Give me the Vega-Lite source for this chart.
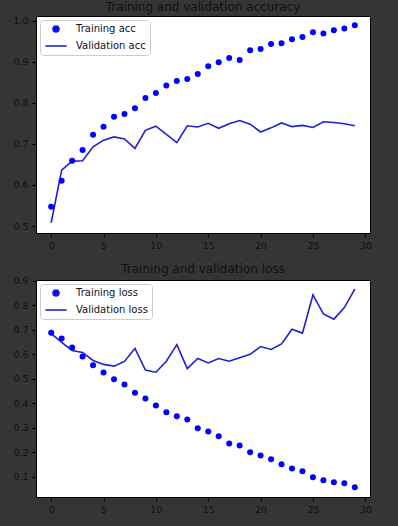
{
  "$schema": "https://vega.github.io/schema/vega-lite/v6.json",
  "background": "#353535",
  "padding": {"left": 12, "top": 0, "right": 26, "bottom": 26},
  "config": {
    "font": "DejaVu Sans",
    "view": {"fill": "white", "stroke": "black", "strokeWidth": 1},
    "axis": {
      "grid": false,
      "domain": false,
      "tickColor": "black",
      "tickSize": 4,
      "labelColor": "#111111",
      "labelFontSize": 9.5,
      "labelFont": "DejaVu Sans",
      "labelOverlap": false,
      "labelFlush": false,
      "title": null
    },
    "axisX": {"labelPadding": 3},
    "axisY": {"labelPadding": 4},
    "title": {"font": "DejaVu Sans", "fontSize": 12, "fontWeight": "normal", "color": "#111111", "baseline": "alphabetic", "frame": "group"},
    "legend": {
      "orient": "top-left",
      "offset": 4,
      "title": null,
      "fillColor": "white",
      "strokeColor": "#cccccc",
      "cornerRadius": 3,
      "padding": 4,
      "rowPadding": 5,
      "symbolOffset": 7,
      "labelOffset": 15,
      "labelFontSize": 10,
      "labelColor": "#111111",
      "symbolSize": 36,
      "symbolStrokeWidth": 1.6
    }
  },
  "datasets": {
    "acc": [
      {"epoch": 0, "series": "Training acc", "value": 0.547},
      {"epoch": 1, "series": "Training acc", "value": 0.610},
      {"epoch": 2, "series": "Training acc", "value": 0.659},
      {"epoch": 3, "series": "Training acc", "value": 0.685},
      {"epoch": 4, "series": "Training acc", "value": 0.722},
      {"epoch": 5, "series": "Training acc", "value": 0.742},
      {"epoch": 6, "series": "Training acc", "value": 0.766},
      {"epoch": 7, "series": "Training acc", "value": 0.773},
      {"epoch": 8, "series": "Training acc", "value": 0.787},
      {"epoch": 9, "series": "Training acc", "value": 0.812},
      {"epoch": 10, "series": "Training acc", "value": 0.824},
      {"epoch": 11, "series": "Training acc", "value": 0.842},
      {"epoch": 12, "series": "Training acc", "value": 0.853},
      {"epoch": 13, "series": "Training acc", "value": 0.858},
      {"epoch": 14, "series": "Training acc", "value": 0.870},
      {"epoch": 15, "series": "Training acc", "value": 0.889},
      {"epoch": 16, "series": "Training acc", "value": 0.899},
      {"epoch": 17, "series": "Training acc", "value": 0.909},
      {"epoch": 18, "series": "Training acc", "value": 0.904},
      {"epoch": 19, "series": "Training acc", "value": 0.928},
      {"epoch": 20, "series": "Training acc", "value": 0.931},
      {"epoch": 21, "series": "Training acc", "value": 0.943},
      {"epoch": 22, "series": "Training acc", "value": 0.945},
      {"epoch": 23, "series": "Training acc", "value": 0.955},
      {"epoch": 24, "series": "Training acc", "value": 0.960},
      {"epoch": 25, "series": "Training acc", "value": 0.972},
      {"epoch": 26, "series": "Training acc", "value": 0.969},
      {"epoch": 27, "series": "Training acc", "value": 0.977},
      {"epoch": 28, "series": "Training acc", "value": 0.981},
      {"epoch": 29, "series": "Training acc", "value": 0.989},
      {"epoch": 0, "series": "Validation acc", "value": 0.508},
      {"epoch": 1, "series": "Validation acc", "value": 0.636},
      {"epoch": 2, "series": "Validation acc", "value": 0.658},
      {"epoch": 3, "series": "Validation acc", "value": 0.659},
      {"epoch": 4, "series": "Validation acc", "value": 0.693},
      {"epoch": 5, "series": "Validation acc", "value": 0.709},
      {"epoch": 6, "series": "Validation acc", "value": 0.717},
      {"epoch": 7, "series": "Validation acc", "value": 0.712},
      {"epoch": 8, "series": "Validation acc", "value": 0.689},
      {"epoch": 9, "series": "Validation acc", "value": 0.733},
      {"epoch": 10, "series": "Validation acc", "value": 0.743},
      {"epoch": 11, "series": "Validation acc", "value": 0.723},
      {"epoch": 12, "series": "Validation acc", "value": 0.703},
      {"epoch": 13, "series": "Validation acc", "value": 0.744},
      {"epoch": 14, "series": "Validation acc", "value": 0.741},
      {"epoch": 15, "series": "Validation acc", "value": 0.750},
      {"epoch": 16, "series": "Validation acc", "value": 0.738},
      {"epoch": 17, "series": "Validation acc", "value": 0.749},
      {"epoch": 18, "series": "Validation acc", "value": 0.757},
      {"epoch": 19, "series": "Validation acc", "value": 0.748},
      {"epoch": 20, "series": "Validation acc", "value": 0.729},
      {"epoch": 21, "series": "Validation acc", "value": 0.739},
      {"epoch": 22, "series": "Validation acc", "value": 0.751},
      {"epoch": 23, "series": "Validation acc", "value": 0.742},
      {"epoch": 24, "series": "Validation acc", "value": 0.745},
      {"epoch": 25, "series": "Validation acc", "value": 0.740},
      {"epoch": 26, "series": "Validation acc", "value": 0.754},
      {"epoch": 27, "series": "Validation acc", "value": 0.752},
      {"epoch": 28, "series": "Validation acc", "value": 0.749},
      {"epoch": 29, "series": "Validation acc", "value": 0.744}
    ],
    "loss": [
      {"epoch": 0, "series": "Training loss", "value": 0.688},
      {"epoch": 1, "series": "Training loss", "value": 0.665},
      {"epoch": 2, "series": "Training loss", "value": 0.628},
      {"epoch": 3, "series": "Training loss", "value": 0.591},
      {"epoch": 4, "series": "Training loss", "value": 0.556},
      {"epoch": 5, "series": "Training loss", "value": 0.526},
      {"epoch": 6, "series": "Training loss", "value": 0.498},
      {"epoch": 7, "series": "Training loss", "value": 0.477},
      {"epoch": 8, "series": "Training loss", "value": 0.443},
      {"epoch": 9, "series": "Training loss", "value": 0.420},
      {"epoch": 10, "series": "Training loss", "value": 0.391},
      {"epoch": 11, "series": "Training loss", "value": 0.363},
      {"epoch": 12, "series": "Training loss", "value": 0.347},
      {"epoch": 13, "series": "Training loss", "value": 0.334},
      {"epoch": 14, "series": "Training loss", "value": 0.298},
      {"epoch": 15, "series": "Training loss", "value": 0.285},
      {"epoch": 16, "series": "Training loss", "value": 0.265},
      {"epoch": 17, "series": "Training loss", "value": 0.236},
      {"epoch": 18, "series": "Training loss", "value": 0.228},
      {"epoch": 19, "series": "Training loss", "value": 0.200},
      {"epoch": 20, "series": "Training loss", "value": 0.187},
      {"epoch": 21, "series": "Training loss", "value": 0.171},
      {"epoch": 22, "series": "Training loss", "value": 0.151},
      {"epoch": 23, "series": "Training loss", "value": 0.134},
      {"epoch": 24, "series": "Training loss", "value": 0.122},
      {"epoch": 25, "series": "Training loss", "value": 0.098},
      {"epoch": 26, "series": "Training loss", "value": 0.085},
      {"epoch": 27, "series": "Training loss", "value": 0.077},
      {"epoch": 28, "series": "Training loss", "value": 0.073},
      {"epoch": 29, "series": "Training loss", "value": 0.057},
      {"epoch": 0, "series": "Validation loss", "value": 0.685},
      {"epoch": 1, "series": "Validation loss", "value": 0.649},
      {"epoch": 2, "series": "Validation loss", "value": 0.616},
      {"epoch": 3, "series": "Validation loss", "value": 0.608},
      {"epoch": 4, "series": "Validation loss", "value": 0.575},
      {"epoch": 5, "series": "Validation loss", "value": 0.559},
      {"epoch": 6, "series": "Validation loss", "value": 0.552},
      {"epoch": 7, "series": "Validation loss", "value": 0.571},
      {"epoch": 8, "series": "Validation loss", "value": 0.624},
      {"epoch": 9, "series": "Validation loss", "value": 0.536},
      {"epoch": 10, "series": "Validation loss", "value": 0.527},
      {"epoch": 11, "series": "Validation loss", "value": 0.572},
      {"epoch": 12, "series": "Validation loss", "value": 0.640},
      {"epoch": 13, "series": "Validation loss", "value": 0.542},
      {"epoch": 14, "series": "Validation loss", "value": 0.583},
      {"epoch": 15, "series": "Validation loss", "value": 0.565},
      {"epoch": 16, "series": "Validation loss", "value": 0.583},
      {"epoch": 17, "series": "Validation loss", "value": 0.572},
      {"epoch": 18, "series": "Validation loss", "value": 0.586},
      {"epoch": 19, "series": "Validation loss", "value": 0.600},
      {"epoch": 20, "series": "Validation loss", "value": 0.632},
      {"epoch": 21, "series": "Validation loss", "value": 0.620},
      {"epoch": 22, "series": "Validation loss", "value": 0.643},
      {"epoch": 23, "series": "Validation loss", "value": 0.703},
      {"epoch": 24, "series": "Validation loss", "value": 0.687},
      {"epoch": 25, "series": "Validation loss", "value": 0.843},
      {"epoch": 26, "series": "Validation loss", "value": 0.765},
      {"epoch": 27, "series": "Validation loss", "value": 0.744},
      {"epoch": 28, "series": "Validation loss", "value": 0.791},
      {"epoch": 29, "series": "Validation loss", "value": 0.867}
    ]
  },
  "spacing": 12,
  "vconcat": [
    {
      "title": {"text": "Training and validation accuracy", "offset": 1.5},
      "width": 334,
      "height": 217,
      "data": {"name": "acc"},
      "layer": [
        {
          "transform": [{"filter": "datum.series === 'Validation acc'"}],
          "mark": {"type": "line", "color": "#2020d0", "strokeWidth": 1.6},
          "encoding": {
            "x": {"field": "epoch", "type": "quantitative", "scale": {"domain": [-1.45, 30.45], "nice": false, "zero": false}, "axis": {"values": [0, 5, 10, 15, 20, 25, 30], "labelOverlap": false, "tickCount": 7}},
            "y": {"field": "value", "type": "quantitative", "scale": {"domain": [0.483, 1.0114], "nice": false, "zero": false}, "axis": {"values": [0.5, 0.6, 0.7, 0.8, 0.9, 1.0], "format": ".1f", "labelOverlap": false, "tickCount": 6}}
          }
        },
        {
          "transform": [{"filter": "datum.series === 'Training acc'"}],
          "mark": {"type": "point", "filled": true, "opacity": 1, "size": 36},
          "encoding": {
            "x": {"field": "epoch", "type": "quantitative"},
            "y": {"field": "value", "type": "quantitative"},
            "color": {"field": "series", "type": "nominal", "scale": {"domain": ["Training acc", "Validation acc"], "range": ["#0000ff", "#2020d0"]}, "legend": {"symbolStrokeColor": "#2020d0"}},
            "shape": {"field": "series", "type": "nominal", "scale": {"domain": ["Training acc", "Validation acc"], "range": ["circle", "M-3.5,0H3.5"]}}
          }
        }
      ]
    },
    {
      "title": {"text": "Training and validation loss", "offset": 0},
      "width": 334,
      "height": 217,
      "data": {"name": "loss"},
      "layer": [
        {
          "transform": [{"filter": "datum.series === 'Validation loss'"}],
          "mark": {"type": "line", "color": "#2020d0", "strokeWidth": 1.6},
          "encoding": {
            "x": {"field": "epoch", "type": "quantitative", "scale": {"domain": [-1.45, 30.45], "nice": false, "zero": false}, "axis": {"values": [0, 5, 10, 15, 20, 25, 30], "labelOverlap": false, "tickCount": 7}},
            "y": {"field": "value", "type": "quantitative", "scale": {"domain": [0.017, 0.904], "nice": false, "zero": false}, "axis": {"values": [0.1, 0.2, 0.3, 0.4, 0.5, 0.6, 0.7, 0.8, 0.9], "format": ".1f", "labelOverlap": false, "tickCount": 9}}
          }
        },
        {
          "transform": [{"filter": "datum.series === 'Training loss'"}],
          "mark": {"type": "point", "filled": true, "opacity": 1, "size": 36},
          "encoding": {
            "x": {"field": "epoch", "type": "quantitative"},
            "y": {"field": "value", "type": "quantitative"},
            "color": {"field": "series", "type": "nominal", "scale": {"domain": ["Training loss", "Validation loss"], "range": ["#0000ff", "#2020d0"]}, "legend": {"symbolStrokeColor": "#2020d0"}},
            "shape": {"field": "series", "type": "nominal", "scale": {"domain": ["Training loss", "Validation loss"], "range": ["circle", "M-3.5,0H3.5"]}}
          }
        }
      ]
    }
  ],
  "resolve": {
    "scale": {"color": "independent", "shape": "independent", "x": "independent", "y": "independent"},
    "legend": {"color": "independent", "shape": "independent"}
  }
}
